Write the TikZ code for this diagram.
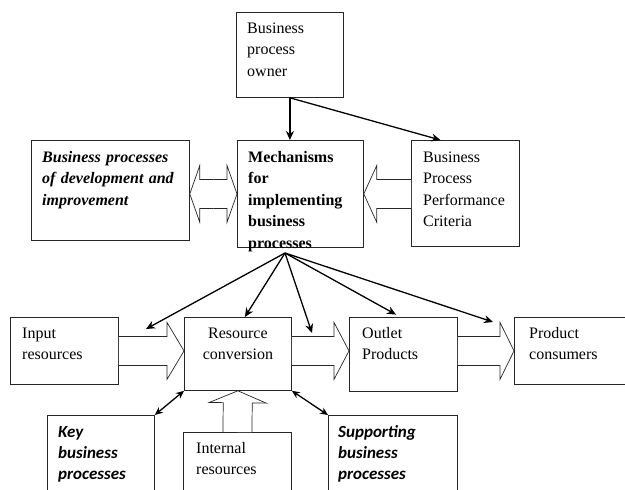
\documentclass[tikz,border=0pt]{standalone}
\usepackage{fontspec}
\setmainfont{Liberation Serif}
\newfontfamily\calibri{Carlito}
\usepackage{tikz}
\usetikzlibrary{calc, arrows.meta}

\begin{document}
\begin{tikzpicture}[x=1pt, y=-1pt,
	box/.style={draw=black!85, line width=0.8pt, inner sep=0pt, anchor=north west},
	txt/.style={inner sep=0pt, anchor=base west, align=left, font=\fontsize{16}{21.5}\selectfont},
	keytxt/.style={txt, font=\calibri\bfseries\itshape\fontsize{17}{21}\selectfont},
	link/.style={line width=1.3pt, -{Stealth[length=9pt, width=8pt]}},
	twolink/.style={line width=1.3pt, {Stealth[length=8pt, width=7pt]}-{Stealth[length=8pt, width=7pt]}},
	blockarrow/.style={draw=black!85, fill=white, line width=0.7pt, to path={
		($(\tikztotarget)!#1!(\tikztostart)$) coordinate (hb)
		($(\tikztostart)!\sw!90:(\tikztotarget)$) -- ($(hb)!\sw!-90:(\tikztostart)$)
		-- ($(hb)!\hw!-90:(\tikztostart)$) -- (\tikztotarget)
		-- ($(hb)!\hw!90:(\tikztostart)$) -- ($(hb)!\sw!90:(\tikztostart)$)
		-- ($(\tikztostart)!\sw!-90:(\tikztotarget)$)}},
	blockarrow/.default=16pt]
	\def\sw{14.5pt};
	\def\hw{28.5pt};
	
	\useasboundingbox (0,0) rectangle (625,490);
	\clip (0,0) rectangle (625,490);
	
	% upper part
	\node [box, minimum width=107, minimum height=85] (own) at (236,12) {};
	\node [box, minimum width=158, minimum height=100] (dev) at (31,140) {};
	\node [box, minimum width=126, minimum height=107] (mech) at (237,140) {};
	\node [box, minimum width=108, minimum height=106] (crit) at (411,140) {};
	
	% process chain
	\node [box, minimum width=108, minimum height=67] (inp) at (10,317) {};
	\node [box, minimum width=107, minimum height=73] (res) at (184,317) {};
	\node [box, minimum width=108, minimum height=74] (outl) at (349,317) {};
	\node [box, minimum width=130, minimum height=67] (cons) at (514,317) {};
	
	% lower part
	\node [box, minimum width=107, minimum height=90] (key) at (47,415) {};
	\node [box, minimum width=108, minimum height=70] (intl) at (183,432) {};
	\node [box, minimum width=129, minimum height=90] (supp) at (328,415) {};
	
	% block arrows
	\coordinate (devE) at (dev.east |- mech.west);
	\coordinate (dm) at ($(devE)!0.5!(mech.west)$);
	\draw [blockarrow=10pt] (dm) to (devE);
	\draw [blockarrow=10pt] (dm) to (mech.west);
	\draw [blockarrow=13pt] (crit.west |- mech.east) to (mech.east);
	\draw [blockarrow=17pt] (inp.east) to (res.west |- inp.east);
	\draw [blockarrow=15pt] (res.east |- inp.east) to (outl.west |- inp.east);
	\draw [blockarrow=14pt] (outl.east |- inp.east) to (cons.west |- inp.east);
	\draw [blockarrow=12pt] (intl.north) to (res.south);
	
	% texts
	\node [txt, text width=96] (ownT) at ([shift={(11,21)}]own.north west) {Business\\process\\owner};
	\node [txt, text width=147, font=\bfseries\itshape\fontsize{16}{21.5}\selectfont] (devT) at ([shift={(11,22)}]dev.north west) {Business processes\\of development and\\improvement};
	\node [txt, text width=115, font=\bfseries\fontsize{16}{21.5}\selectfont] (mechT) at ([shift={(11,22)}]mech.north west) {Mechanisms\\for\\implementing\\business\\processes};
	\node [txt, text width=96] (critT) at ([shift={(12,22)}]crit.north west) {Business\\Process\\Performance\\Criteria};
	\node [txt, text width=96] (inpT) at ([shift={(12,21)}]inp.north west) {Input\\resources};
	\node [txt, text width=107, align=center, anchor=base] (resT) at ([yshift=-21pt]res.north) {Resource\\conversion};
	\node [txt, text width=96] (outlT) at ([shift={(13,21)}]outl.north west) {Outlet\\Products};
	\node [txt, text width=110] (consT) at ([shift={(15,21)}]cons.north west) {Product\\consumers};
	\node [keytxt, text width=96] (keyT) at ([shift={(11,22)}]key.north west) {Key\\business\\processes};
	\node [txt, text width=96] (intlT) at ([shift={(13,21)}]intl.north west) {Internal\\resources};
	\node [keytxt, text width=118] (suppT) at ([shift={(10,22)}]supp.north west) {Supporting\\business\\processes};
	
	% thin arrows
	\coordinate (hub) at (285,253);
	\coordinate (toIn) at (146,329);
	\coordinate (toConv) at (312,333);
	\coordinate (toOut) at (493,322);
	\draw [link] (own.south) -- (own.south |- mech.north);
	\draw [link] (own.south) -- ([xshift=-25pt]crit.north);
	\draw [link] (hub) -- (toIn);
	\draw [link] (hub) -- ([xshift=7pt]res.north);
	\draw [link] (hub) -- (toConv);
	\draw [link, shorten >=5pt] (hub) -- ([xshift=-3pt]outl.north);
	\draw [link] (hub) -- (toOut);
	\draw [twolink] (key.north east) -- (res.south west);
	\draw [twolink] (supp.north west) -- (res.south east);
\end{tikzpicture}
\end{document}
